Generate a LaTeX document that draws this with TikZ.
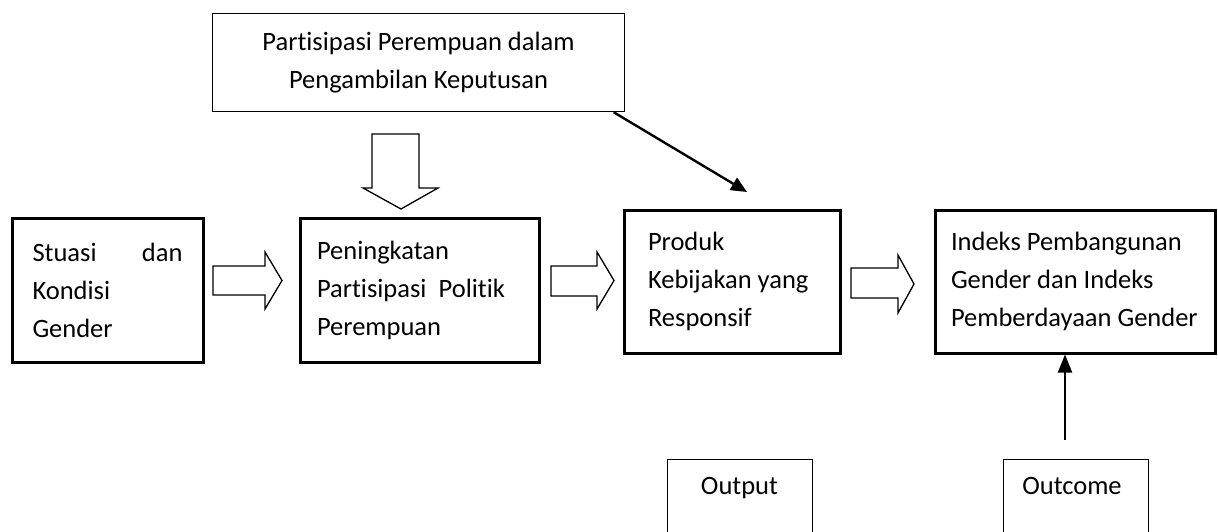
\documentclass[tikz,border=0pt]{standalone}
\usepackage{fontspec}
\setmainfont{Carlito}[Ligatures={NoCommon}]
\usetikzlibrary{arrows.meta,calc}
\begin{document}
\begin{tikzpicture}[x=1pt,y=-1pt,
  txt/.style={font=\fontsize{26.5}{38}\selectfont},
  thickbox/.style={draw, line width=3pt, rectangle, align=flush left, inner ysep=0pt, txt},
  thinbox/.style={draw, line width=1.4pt, rectangle},
  blockarrow/.style={draw, line width=1.3pt, fill=white, line join=miter},
  connector/.style={line width=2.4pt, -{Triangle[length=16pt,width=14pt]}},
]
\useasboundingbox (0,0) rectangle (1218,531);
\clip (0,0) rectangle (1218,531);

% top box
\node[thinbox, txt, minimum width=412pt, minimum height=98pt, align=flush center, inner sep=0pt]
  (top) at (418.5,62.5) {\raisebox{-2.5pt}{Partisipasi Perempuan dalam}\\\raisebox{-2.5pt}{Pengambilan Keputusan}};

% main row
\node[thickbox, minimum width=191pt, minimum height=144pt, text width=150pt, inner xsep=20.5pt]
  (b1) at (107.5,290) {\makebox[150pt]{Stuasi\hfill dan}\\Kondisi\\Gender};
\node[thickbox, minimum width=239pt, minimum height=144pt, text width=205pt, inner xsep=17pt]
  (b2) at (419.5,290) {Peningkatan\\\makebox[188pt]{Partisipasi\hfill Politik}\\Perempuan};
\node[thickbox, minimum width=215.5pt, minimum height=142.5pt, text width=168.5pt, inner xsep=23.5pt]
  (b3) at (732.25,281.75) {Produk\\\mbox{Kebijakan yang}\\Responsif};
\node[thickbox, minimum width=280pt, minimum height=142.5pt, text width=249pt, inner xsep=15.5pt]
  (b4) at (1075.5,281.75) {\mbox{Indeks Pembangunan}\\\mbox{Gender dan Indeks}\\\mbox{Pemberdayaan Gender}};

% bottom boxes
\node[thinbox, minimum width=145pt, minimum height=120pt, anchor=north west, inner sep=0pt]
  (out) at (667,459) {};
\node[txt, anchor=base, inner sep=0pt] (outtxt) at (739.5,494) {Output};
\node[thinbox, minimum width=145pt, minimum height=120pt, anchor=north west, inner sep=0pt]
  (outc) at (1003,459) {};
\node[txt, anchor=base, inner sep=0pt] (outctxt) at (1072,494) {Outcome};

% block arrows
\draw[blockarrow] (372,134) -- (419,134) -- (419,188) -- (438,188) -- (401,209)
  -- (363,188) -- (372,188) -- cycle;
\draw[blockarrow] (213,266) -- (265,266) -- (265,252) -- (282,280.5) -- (265,309)
  -- (265,295) -- (213,295) -- cycle;
\draw[blockarrow] (551,266) -- (597,266) -- (597,252) -- (614,280.5) -- (597,309)
  -- (597,296) -- (551,296) -- cycle;
\draw[blockarrow] (851,268) -- (898,268) -- (898,255) -- (914,284) -- (898,313)
  -- (898,298) -- (851,298) -- cycle;

% connectors
\coordinate (dstart) at ($(top.south east)+(-11.5,0)$);
\coordinate (dend) at (747,192);
\draw[connector] (dstart) -- (dend);
\coordinate (ustart) at (1065,440);
\draw[line width=2pt, -{Triangle[length=18pt,width=14pt]}] (ustart) -- (ustart |- b4.south);
\end{tikzpicture}
\end{document}
